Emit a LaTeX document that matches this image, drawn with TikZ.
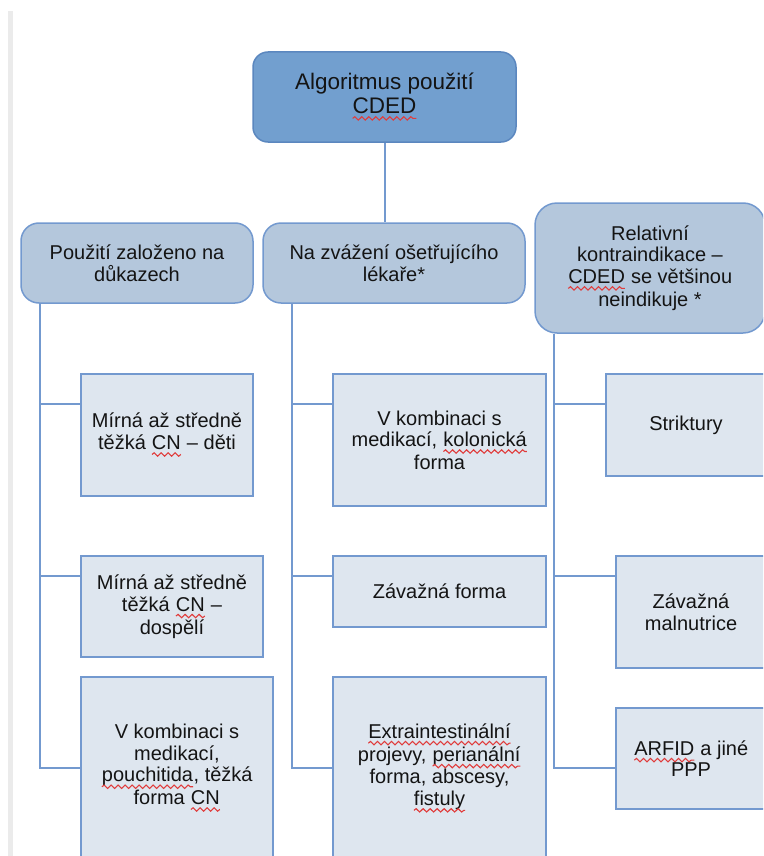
\documentclass[tikz,border=0pt]{standalone}
\usepackage{fontspec}
\setmainfont{Liberation Sans}
\usepackage{xcolor}
\usetikzlibrary{decorations.pathmorphing}

\definecolor{modra}{HTML}{729FCF}
\definecolor{modratmava}{HTML}{5B87BF}
\definecolor{svetla}{HTML}{B4C7DC}
\definecolor{nejsvetlejsi}{HTML}{DEE6EF}
\definecolor{linka}{HTML}{7399CF}
\definecolor{spell}{HTML}{E03C3C}

% red wavy underline of the spell checker
\newcommand\chyba[1]{\tikz[baseline=(w.base)]{%
  \node[draw=none, fill=none, inner sep=0pt, outer sep=0pt, minimum size=0pt, font={}, anchor=base] (w) {#1};
  \draw[draw=spell, fill=none, line width=1.1pt, sharp corners, decorate,
        decoration={snake, amplitude=1.7pt, segment length=7pt}]
    ([yshift=-5pt]w.base west) -- ([yshift=-5pt]w.base east);}}

\begin{document}
\begin{tikzpicture}[
    x=1pt, y=-1pt,
    font=\fontsize{20}{21.5}\selectfont,
    text=black!92,
    koren/.style={
        draw=modratmava,
        line width=1.5pt,
        fill=modra,
        rounded corners=15pt,
        align=center,
        inner sep=0pt,
        font=\fontsize{22.5}{23.5}\selectfont
    },
    skupina/.style={
        draw=linka,
        line width=1.5pt,
        fill=svetla,
        rounded corners=18pt,
        align=center,
        inner sep=0pt
    },
    polozka/.style={
        draw=linka,
        line width=1.5pt,
        fill=nejsvetlejsi,
        align=center,
        inner sep=0pt
    },
    spoj/.style={draw=linka, line width=2pt}
]
\useasboundingbox (0,0) rectangle (763,856);
\clip (0,0) rectangle (763,856);

% page edge
\fill[black!8] (8,11) rectangle (13,856);

% root
\node[koren, minimum width=263, minimum height=90] (algoritmus) at (384.5,97)
{Algoritmus použití\\\chyba{CDED}};

% groups
\node[skupina, minimum width=232, minimum height=80] (dukazy) at (137,263)
{Použití založeno na\\důkazech};

\node[skupina, minimum width=262, minimum height=80] (lekar) at (394,263)
{Na zvážení ošetřujícího\\lékaře*};

\node[skupina, rounded corners=22pt, minimum width=230, minimum height=130] (kontra) at (650,268)
{Relativní\\kontraindikace –\\\chyba{CDED} se většinou\\neindikuje *};

% first column
\node[polozka, minimum width=172, minimum height=122] (deti) at (167,435)
{Mírná až středně\\těžká \chyba{CN} – děti};

\node[polozka, minimum width=182, minimum height=101] (dospeli) at (172,606.5)
{Mírná až středně\\těžká \chyba{CN} –\\dospělí};

\node[polozka, minimum width=192, minimum height=182] (pouchitida) at (177,768)
{V kombinaci s\\medikací,\\\chyba{pouchitida}, těžká\\forma \chyba{CN}};

% second column
\node[polozka, minimum width=213, minimum height=132] (kolonicka) at (439.5,440)
{V kombinaci s\\medikací, \chyba{kolonická}\\forma};

\node[polozka, minimum width=213, minimum height=71] (zavazna) at (439.5,591.5)
{Závažná forma};

\node[polozka, minimum width=213, minimum height=182] (extra) at (439.5,768)
{\chyba{Extraintestinální}\\projevy, \chyba{perianální}\\forma, abscesy,\\\chyba{fistuly}};

% third column
\node[polozka, minimum width=160, minimum height=102] (striktury) at (686,425)
{Striktury};

\node[polozka, minimum width=150, minimum height=112] (malnutrice) at (691,612)
{Závažná\\malnutrice};

\node[polozka, minimum width=150, minimum height=101] (arfid) at (691,758.5)
{\chyba{ARFID} a jiné\\PPP};

% connectors
\coordinate (u1) at (0,404);
\coordinate (u2) at (0,576);
\coordinate (u3) at (0,768);
\coordinate (kmenA) at ([xshift=20pt]dukazy.south west);
\coordinate (kmenB) at ([xshift=30pt]lekar.south west);
\coordinate (kmenC) at ([xshift=20pt]kontra.south west);

\draw[spoj] (algoritmus.south) -- (algoritmus.south |- lekar.north);

\draw[spoj] (kmenA) |- (pouchitida.west |- u3);
\draw[spoj] (kmenA |- u1) -- (deti.west |- u1);
\draw[spoj] (kmenA |- u2) -- (dospeli.west |- u2);

\draw[spoj] (kmenB) |- (extra.west |- u3);
\draw[spoj] (kmenB |- u1) -- (kolonicka.west |- u1);
\draw[spoj] (kmenB |- u2) -- (zavazna.west |- u2);

\draw[spoj] (kmenC) |- (arfid.west |- u3);
\draw[spoj] (kmenC |- u1) -- (striktury.west |- u1);
\draw[spoj] (kmenC |- u2) -- (malnutrice.west |- u2);

\end{tikzpicture}
\end{document}
